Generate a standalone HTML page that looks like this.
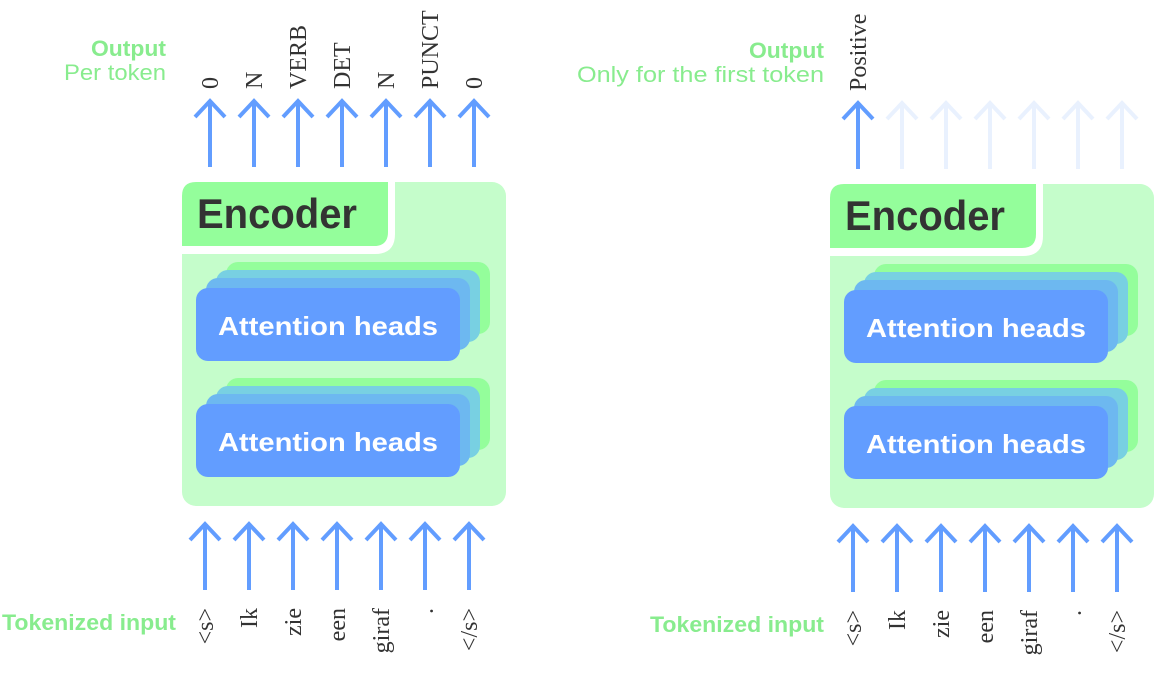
<!DOCTYPE html>
<html><head><meta charset="utf-8"><style>
html,body{margin:0;padding:0;background:#fff;}
svg{display:block;}
.g{fill:#88ec8e;font-family:"Liberation Sans",sans-serif;}
.lab{fill:#333;font-family:"Liberation Serif",serif;font-size:24px;}
.enc{fill:#333;font-family:"Liberation Sans",sans-serif;font-weight:bold;font-size:42px;}
.ah{fill:#fff;font-family:"Liberation Sans",sans-serif;font-weight:bold;font-size:26px;}
.ar{stroke:#629dff;stroke-width:4;fill:none;}
.fa{stroke:#e9f1fe;stroke-width:4;fill:none;}
</style></head><body>
<svg width="1162" height="682" viewBox="0 0 1162 682" xmlns="http://www.w3.org/2000/svg">
<defs>
<g id="arr"><line x1="0" y1="67" x2="0" y2="1"/><polyline points="-15,17 0,1 15,17"/></g>
</defs>

<!-- LEFT -->
<g>
<text class="g" x="166" y="56" text-anchor="end" font-weight="bold" font-size="22" textLength="75" lengthAdjust="spacingAndGlyphs">Output</text>
<text class="g" x="166" y="80" text-anchor="end" font-size="22" textLength="102" lengthAdjust="spacingAndGlyphs">Per token</text>
<g class="ar">
<use href="#arr" x="210" y="100"/><use href="#arr" x="254" y="100"/><use href="#arr" x="298" y="100"/><use href="#arr" x="342" y="100"/><use href="#arr" x="386" y="100"/><use href="#arr" x="430" y="100"/><use href="#arr" x="474" y="100"/>
</g>
<g class="lab">
<text transform="translate(218,89) rotate(-90)">0</text>
<text transform="translate(262,89) rotate(-90)">N</text>
<text transform="translate(306,89) rotate(-90)">VERB</text>
<text transform="translate(350,89) rotate(-90)">DET</text>
<text transform="translate(394,89) rotate(-90)">N</text>
<text transform="translate(438,89) rotate(-90)">PUNCT</text>
<text transform="translate(482,89) rotate(-90)">0</text>
</g>
<rect x="182" y="182" width="324" height="324" rx="14" fill="#c5fdcb"/>
<path d="M182,182 H395 V234 Q395,254 375,254 H182 Z" fill="#fff"/>
<path d="M182,196 Q182,182 196,182 H388 V232 Q388,246 374,246 H182 Z" fill="#94fe9b"/>
<text class="enc" x="197" y="228" textLength="160" lengthAdjust="spacingAndGlyphs">Encoder</text>
<g>
<rect x="226" y="262" width="264" height="72" rx="12" fill="#94fe9b"/>
<rect x="216" y="270" width="264" height="72" rx="12" fill="#78d0e2"/>
<rect x="206" y="278" width="264" height="72" rx="12" fill="#6db8f0"/>
<rect x="196" y="288" width="264" height="73" rx="12" fill="#629dff"/>
<text class="ah" x="218" y="335" textLength="220" lengthAdjust="spacingAndGlyphs">Attention heads</text>
</g>
<g transform="translate(0,116)">
<rect x="226" y="262" width="264" height="72" rx="12" fill="#94fe9b"/>
<rect x="216" y="270" width="264" height="72" rx="12" fill="#78d0e2"/>
<rect x="206" y="278" width="264" height="72" rx="12" fill="#6db8f0"/>
<rect x="196" y="288" width="264" height="73" rx="12" fill="#629dff"/>
<text class="ah" x="218" y="335" textLength="220" lengthAdjust="spacingAndGlyphs">Attention heads</text>
</g>
<g class="ar">
<use href="#arr" x="205" y="523"/><use href="#arr" x="249" y="523"/><use href="#arr" x="293" y="523"/><use href="#arr" x="337" y="523"/><use href="#arr" x="381" y="523"/><use href="#arr" x="425" y="523"/><use href="#arr" x="469" y="523"/>
</g>
<text class="g" x="176" y="630" text-anchor="end" font-weight="bold" font-size="22" textLength="174" lengthAdjust="spacingAndGlyphs">Tokenized input</text>
<g class="lab" text-anchor="end">
<text transform="translate(213,608) rotate(-90)">&lt;s&gt;</text>
<text transform="translate(257,608) rotate(-90)">Ik</text>
<text transform="translate(301,608) rotate(-90)">zie</text>
<text transform="translate(345,608) rotate(-90)">een</text>
<text transform="translate(389,608) rotate(-90)">giraf</text>
<text transform="translate(433,608) rotate(-90)">.</text>
<text transform="translate(477,608) rotate(-90)">&lt;/s&gt;</text>
</g>
</g>

<!-- RIGHT -->
<g transform="translate(648,2)">
<text class="g" x="176" y="56" text-anchor="end" font-weight="bold" font-size="22" textLength="75" lengthAdjust="spacingAndGlyphs">Output</text>
<text class="g" x="176" y="80" text-anchor="end" font-size="22" textLength="247" lengthAdjust="spacingAndGlyphs">Only for the first token</text>
<g class="fa">
<use href="#arr" x="254" y="100"/><use href="#arr" x="298" y="100"/><use href="#arr" x="342" y="100"/><use href="#arr" x="386" y="100"/><use href="#arr" x="430" y="100"/><use href="#arr" x="474" y="100"/>
</g>
<g class="ar"><use href="#arr" x="210" y="100"/></g>
<g class="lab">
<text transform="translate(218,89) rotate(-90)">Positive</text>
</g>
<rect x="182" y="182" width="324" height="324" rx="14" fill="#c5fdcb"/>
<path d="M182,182 H395 V234 Q395,254 375,254 H182 Z" fill="#fff"/>
<path d="M182,196 Q182,182 196,182 H388 V232 Q388,246 374,246 H182 Z" fill="#94fe9b"/>
<text class="enc" x="197" y="228" textLength="160" lengthAdjust="spacingAndGlyphs">Encoder</text>
<g>
<rect x="226" y="262" width="264" height="72" rx="12" fill="#94fe9b"/>
<rect x="216" y="270" width="264" height="72" rx="12" fill="#78d0e2"/>
<rect x="206" y="278" width="264" height="72" rx="12" fill="#6db8f0"/>
<rect x="196" y="288" width="264" height="73" rx="12" fill="#629dff"/>
<text class="ah" x="218" y="335" textLength="220" lengthAdjust="spacingAndGlyphs">Attention heads</text>
</g>
<g transform="translate(0,116)">
<rect x="226" y="262" width="264" height="72" rx="12" fill="#94fe9b"/>
<rect x="216" y="270" width="264" height="72" rx="12" fill="#78d0e2"/>
<rect x="206" y="278" width="264" height="72" rx="12" fill="#6db8f0"/>
<rect x="196" y="288" width="264" height="73" rx="12" fill="#629dff"/>
<text class="ah" x="218" y="335" textLength="220" lengthAdjust="spacingAndGlyphs">Attention heads</text>
</g>
<g class="ar">
<use href="#arr" x="205" y="523"/><use href="#arr" x="249" y="523"/><use href="#arr" x="293" y="523"/><use href="#arr" x="337" y="523"/><use href="#arr" x="381" y="523"/><use href="#arr" x="425" y="523"/><use href="#arr" x="469" y="523"/>
</g>
<text class="g" x="176" y="630" text-anchor="end" font-weight="bold" font-size="22" textLength="174" lengthAdjust="spacingAndGlyphs">Tokenized input</text>
<g class="lab" text-anchor="end">
<text transform="translate(213,608) rotate(-90)">&lt;s&gt;</text>
<text transform="translate(257,608) rotate(-90)">Ik</text>
<text transform="translate(301,608) rotate(-90)">zie</text>
<text transform="translate(345,608) rotate(-90)">een</text>
<text transform="translate(389,608) rotate(-90)">giraf</text>
<text transform="translate(433,608) rotate(-90)">.</text>
<text transform="translate(477,608) rotate(-90)">&lt;/s&gt;</text>
</g>
</g>
</svg>
</body></html>
